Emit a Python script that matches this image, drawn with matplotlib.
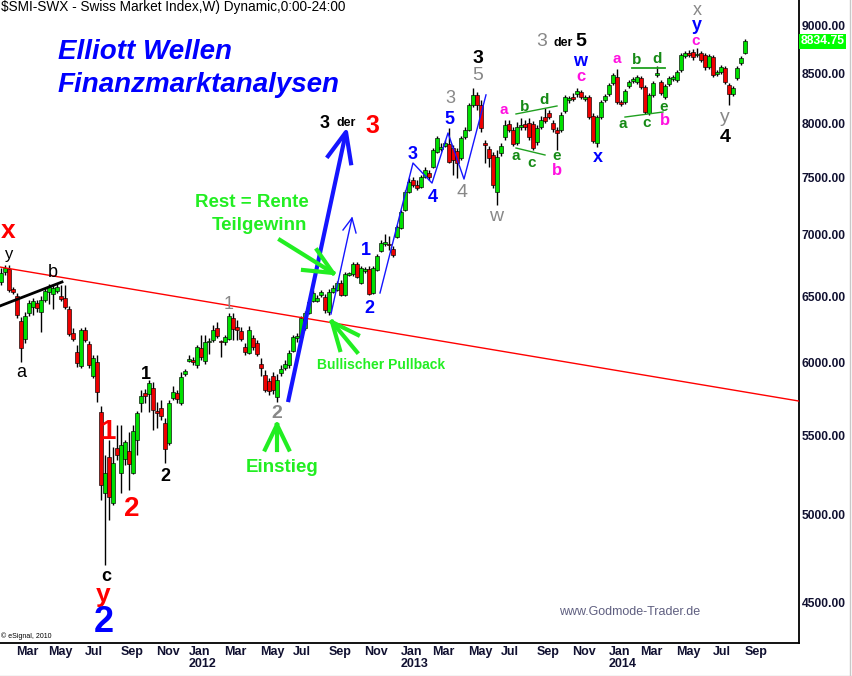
import numpy as np
import pandas as pd
import matplotlib
matplotlib.use("Agg")
import matplotlib.pyplot as plt
import matplotlib.transforms as mtransforms
from matplotlib.ticker import FixedLocator, NullLocator

plt.rcParams['font.family'] = ['Liberation Sans', 'DejaVu Sans']

# weekly bars of the SMI, first bar = week ending 11 Feb 2011
first_week = "2011-02-11"
opens = [
    6615, 6695, 6720, 6559, 6503, 6310, 6175, 6372, 6418, 6449,
    6380, 6472, 6535, 6520, 6543, 6503, 6488, 6402, 6220, 6079,
    5978, 6243, 6138, 5906, 6006, 5656, 5131, 5358, 5070, 5416,
    5255, 5345, 5397, 5255, 5468, 5717, 5787, 5780, 5822, 5663,
    5683, 5582, 5448, 5752, 5787, 5717, 5920, 6014, 6021, 5985,
    6109, 6014, 6153, 6168, 6258, 6160, 6153, 6175, 6333, 6265,
    6235, 6116, 6072, 6183, 6146, 5992, 5913, 5871, 5906, 5759,
    5927, 5963, 5985, 6087, 6183, 6190, 6258, 6372, 6464, 6464,
    6511, 6495, 6380, 6535, 6551, 6606, 6511, 6670, 6678, 6758,
    6606, 6702, 6718, 6527, 6710, 6865, 6924, 6924, 6882, 6982,
    7058, 7212, 7370, 7477, 7432, 7414, 7504, 7540, 7595, 7734,
    7762, 7790, 7809, 7771, 7743, 7678, 7875, 7941, 8184, 8284,
    8184, 7818, 7762, 7706, 7370, 7725, 7875, 7999, 7941, 7818,
    7970, 7999, 8008, 7999, 7828, 7970, 8066, 8106, 8008, 7941,
    7941, 8125, 8234, 8264, 8294, 8314, 8244, 8264, 8076, 7818,
    8066, 8234, 8294, 8405, 8466, 8214, 8214, 8375, 8425, 8415,
    8456, 8365, 8106, 8284, 8487, 8415, 8264, 8395, 8446, 8435,
    8537, 8681, 8713, 8723, 8692, 8713, 8692, 8568, 8671, 8497,
    8518, 8558, 8385, 8294, 8456, 8609, 8713]
highs = [
    6725, 6750, 6750, 6575, 6527, 6341, 6380, 6472, 6488, 6472,
    6503, 6567, 6598, 6590, 6598, 6590, 6590, 6426, 6258, 6131,
    6258, 6265, 6160, 6058, 6058, 5697, 5371, 5468, 5422, 5568,
    5568, 5468, 5521, 5568, 5663, 5808, 5815, 5878, 5864, 5724,
    5738, 5615, 5738, 5836, 5808, 5935, 5956, 6058, 6043, 6131,
    6205, 6205, 6183, 6280, 6303, 6168, 6205, 6372, 6372, 6318,
    6265, 6146, 6273, 6205, 6168, 6036, 5949, 5892, 5935, 5920,
    5985, 6021, 6094, 6205, 6220, 6348, 6388, 6472, 6551, 6511,
    6551, 6519, 6559, 6590, 6622, 6630, 6694, 6694, 6775, 6775,
    6742, 6734, 6742, 6742, 6840, 6957, 7007, 6990, 6907, 7083,
    7212, 7388, 7495, 7504, 7477, 7522, 7595, 7568, 7771, 7885,
    7818, 7847, 7960, 7799, 7771, 7885, 7970, 8204, 8355, 8314,
    8234, 7847, 7790, 7734, 7752, 7818, 8037, 8037, 7970, 8018,
    8057, 8037, 8057, 8028, 7989, 8076, 8155, 8135, 8037, 7970,
    8115, 8284, 8274, 8304, 8355, 8334, 8284, 8284, 8106, 8086,
    8234, 8294, 8405, 8508, 8547, 8234, 8344, 8435, 8466, 8487,
    8477, 8385, 8304, 8425, 8578, 8435, 8395, 8477, 8487, 8537,
    8713, 8733, 8744, 8754, 8765, 8733, 8713, 8702, 8692, 8537,
    8588, 8578, 8405, 8375, 8578, 8681, 8860]
lows = [
    6590, 6670, 6535, 6520, 6333, 6006, 6146, 6348, 6356, 6380,
    6228, 6457, 6441, 6402, 6527, 6464, 6402, 6198, 6160, 5970,
    5963, 6153, 5963, 5892, 5724, 5088, 4705, 4967, 5058, 5339,
    5131, 5307, 5149, 5249, 5371, 5656, 5717, 5656, 5535, 5548,
    5602, 5320, 5435, 5738, 5717, 5703, 5906, 6006, 5985, 5963,
    6021, 5992, 6065, 6153, 6183, 6043, 6131, 6168, 6168, 6168,
    6160, 6058, 6065, 6094, 6050, 5906, 5794, 5773, 5780, 5724,
    5906, 5949, 5963, 6079, 6153, 6183, 6243, 6364, 6457, 6457,
    6495, 6372, 6356, 6527, 6543, 6503, 6503, 6662, 6662, 6646,
    6598, 6686, 6511, 6519, 6702, 6857, 6907, 6873, 6816, 6974,
    7049, 7203, 7361, 7414, 7388, 7406, 7495, 7477, 7586, 7725,
    7743, 7780, 7632, 7522, 7495, 7659, 7856, 7931, 8164, 8135,
    7922, 7632, 7595, 7406, 7256, 7697, 7847, 7922, 7790, 7799,
    7941, 7941, 7847, 7752, 7799, 7951, 8008, 8047, 7922, 7752,
    7922, 8106, 8204, 8224, 8264, 8244, 8224, 8047, 7818, 7780,
    8047, 8214, 8274, 8385, 8194, 8174, 8194, 8355, 8405, 8395,
    8344, 8096, 8086, 8264, 8466, 8284, 8244, 8375, 8425, 8415,
    8518, 8661, 8671, 8640, 8671, 8619, 8537, 8547, 8466, 8477,
    8497, 8395, 8184, 8274, 8435, 8588, 8702]
closes = [
    6685, 6725, 6550, 6535, 6356, 6109, 6348, 6449, 6464, 6410,
    6472, 6543, 6575, 6567, 6575, 6480, 6418, 6213, 6175, 5999,
    6243, 6168, 5985, 6036, 5794, 5180, 5255, 5106, 5320, 5371,
    5435, 5455, 5313, 5528, 5649, 5766, 5766, 5857, 5670, 5649,
    5629, 5409, 5717, 5794, 5745, 5899, 5942, 6028, 6006, 6116,
    6043, 6153, 6160, 6243, 6198, 6153, 6190, 6348, 6250, 6243,
    6175, 6079, 6243, 6116, 6065, 5963, 5808, 5801, 5808, 5878,
    5956, 5992, 6072, 6190, 6198, 6333, 6372, 6457, 6527, 6488,
    6535, 6395, 6535, 6567, 6606, 6511, 6678, 6686, 6758, 6654,
    6726, 6718, 6519, 6726, 6824, 6932, 6940, 6915, 6832, 7066,
    7194, 7370, 7459, 7432, 7406, 7504, 7568, 7504, 7752, 7866,
    7780, 7818, 7641, 7659, 7632, 7866, 7941, 8184, 8284, 8184,
    7960, 7799, 7678, 7432, 7687, 7790, 7989, 7941, 7809, 7970,
    7989, 7970, 7875, 7771, 7960, 8037, 8028, 8066, 7951, 7913,
    8086, 8264, 8254, 8244, 8324, 8264, 8264, 8066, 7837, 8066,
    8214, 8274, 8385, 8487, 8214, 8194, 8324, 8415, 8446, 8466,
    8365, 8115, 8284, 8405, 8508, 8304, 8375, 8456, 8466, 8518,
    8692, 8713, 8692, 8671, 8702, 8640, 8568, 8681, 8487, 8518,
    8568, 8415, 8294, 8355, 8558, 8661, 8834.75]
last_price = 8834.75
price_ticks = [4500, 5000, 5500, 6000, 6500, 7000, 7500, 8000, 8500, 9000]
month_abbr = {1: "Jan", 3: "Mar", 5: "May", 7: "Jul", 9: "Sep", 11: "Nov"}

o = np.array(opens, float)
h = np.array(highs, float)
l = np.array(lows, float)
c = np.array(closes, float)
n = len(c)
x = np.arange(n)
dates = pd.date_range(first_week, periods=n, freq="7D")
week_start = dates - pd.Timedelta(days=4)  # Monday of each bar

fig = plt.figure(figsize=(8.52, 6.76), dpi=100)
ax = fig.add_axes([0, 33 / 676, 799 / 852, 643 / 676])
ax.set_yscale('log')
ax.set_xlim(-0.25, 199.5)
ax.set_ylim(4283.4, 9286)

# candles: black wick, coloured body with thin black outline
ax.vlines(x, l, h, color='black', lw=1, zorder=2)
bot = np.minimum(o, c)
top = np.maximum(np.maximum(o, c), bot * 1.0015)
cols = np.where(c >= o, '#00e000', '#ee0000')
ax.bar(x, top - bot, bottom=bot, width=0.82, color=cols, edgecolor='black',
       linewidth=0.45, zorder=3)

# axes styling
for s in ['left', 'top']:
    ax.spines[s].set_visible(False)
for s in ['right', 'bottom']:
    ax.spines[s].set_linewidth(1.3)
ax.yaxis.tick_right()
ax.yaxis.set_major_locator(FixedLocator(price_ticks))
ax.yaxis.set_minor_locator(NullLocator())
ax.set_yticklabels([f"{p:.2f}" for p in price_ticks], fontsize=8.7,
                   fontweight='bold', color='#101030')
ax.tick_params(axis='y', length=0, pad=2)

tick_pos, tick_lab = [], []
for i in range(1, n):
    m = week_start[i].month
    if m != week_start[i - 1].month and m in month_abbr:
        lab = month_abbr[m]
        if m == 1:
            lab += f"\n{week_start[i].year}"
        tick_pos.append(i - 0.1)
        tick_lab.append(lab)
ax.set_xticks(tick_pos)
ax.set_xticklabels(tick_lab, fontsize=9, fontweight='bold', color='#101030',
                   ha='left', linespacing=0.95)
ax.xaxis.set_minor_locator(NullLocator())
ax.tick_params(axis='x', length=0, pad=2.5)

# last price tag
trans = mtransforms.blended_transform_factory(ax.transAxes, ax.transData)
ax.text(1.002, last_price, f"{last_price:.2f}", transform=trans, fontsize=8.7,
        fontweight='bold', color='white', va='center', ha='left',
        bbox=dict(boxstyle='square,pad=0.12', fc='#00ff00', ec='none'),
        clip_on=False)

# trend lines
ax.plot([-0.25, 199.5], [6734, 5731], color='red', lw=1, zorder=4)
ax.plot([-0.25, 15.25], [6426, 6614], color='black', lw=2, zorder=4)

# thick blue arrow
ax.plot([71.75, 86.25], [5724, 7922], color='#1515ff', lw=3, zorder=5,
        solid_capstyle='butt')
ax.plot([81.75, 86.25, 87.5], [7695, 7922, 7630], color='#1515ff', lw=3,
        zorder=5)
# thin blue arrow
ax.plot([82.5, 87.75], [6364, 7143], color='#1515ff', lw=1, zorder=5)
ax.plot([85.5, 87.75, 88.75], [7041, 7143, 7016], color='#1515ff', lw=1,
        zorder=5)
# blue wave path
ax.plot([94.75, 103.0, 107.75, 111.75, 115.75, 121.25],
        [6527, 7632, 7450, 7913, 7486, 8284], color='#1515ff', lw=1, zorder=5)

# green triangles
tg = '#20a020'
ax.plot([128.75, 139.0], [8096, 8174], color=tg, lw=1, zorder=5)
ax.plot([128.75, 136.0], [7771, 7706], color=tg, lw=1, zorder=5)
ax.plot([157.75, 166.0], [8558, 8558], color=tg, lw=1.3, zorder=5)
ax.plot([156.0, 165.5], [8066, 8115], color=tg, lw=1, zorder=5)

# lime arrows
lime = '#22ee22'
for ex, ey in [(66.0, 5406), (69.0, 5406), (72.0, 5406)]:
    ax.plot([69.0, ex], [5570, ey], color=lime, lw=3, zorder=6)
for ex, ey in [(84.75, 6094), (89.0, 6079), (89.25, 6205)]:
    ax.plot([82.75, ex], [6303, ey], color=lime, lw=3, zorder=6)
for ex, ey in [(69.75, 6957), (75.5, 6710), (79.0, 6873)]:
    ax.plot([83.0, ex], [6686, ey], color=lime, lw=3, zorder=6)


def lab(i, p, s, color, size, weight='bold', **kw):
    ax.text(i, p, s, color=color, fontsize=size, fontweight=weight,
            ha=kw.pop('ha', 'center'), va='center', zorder=7, **kw)


mag = '#ff10e0'
dg = '#158a15'
gray = '#888888'
blue = '#0000ff'

lab(1.8, 7030, "x", 'red', 19)
lab(2.0, 6840, "y", 'black', 12, 'normal')
lab(13.0, 6686, "b", 'black', 13, 'normal')
lab(5.0, 5928, "a", 'black', 13, 'normal')
lab(57.0, 6441, "1", gray, 13, 'normal')
lab(36.25, 5920, "1", 'black', 13)
lab(26.75, 5522, "1", 'red', 20)
lab(32.75, 5030, "2", 'red', 20)
lab(41.0, 5236, "2", 'black', 13)
lab(26.25, 4642, "c", 'black', 13)
lab(25.5, 4538, "y", 'red', 19)
lab(25.75, 4389, "2", blue, 26)
lab(70.25, 5293, "Einstieg", lime, 13.5)
lab(69.0, 5643, "2", gray, 14)
lab(79.0, 5985, "Bullischer Pullback", lime, 10, ha='left')
lab(62.75, 7282, "Rest = Rente", lime, 13.5)
lab(64.5, 7075, "Teilgewinn", lime, 13.5)
lab(81.0, 8000, "3", 'black', 13)
lab(86.25, 8008, "der", 'black', 9)
lab(92.75, 7980, "3", 'red', 18)
lab(91.25, 6873, "1", blue, 13)
lab(92.0, 6410, "2", blue, 13)
lab(103.0, 7715, "3", blue, 13)
lab(108.0, 7326, "4", blue, 13)
lab(112.0, 8040, "5", blue, 13)
lab(112.25, 8250, "3", gray, 13, 'normal')
lab(115.25, 7370, "4", gray, 14, 'normal')
lab(119.25, 8480, "5", gray, 14, 'normal')
lab(119.25, 8654, "3", 'black', 14)
lab(123.75, 7152, "w", gray, 14, 'normal')
lab(125.75, 8135, "a", mag, 11)
lab(131.0, 8164, "b", dg, 11)
lab(135.75, 8234, "d", dg, 11)
lab(128.75, 7697, "a", dg, 11)
lab(132.75, 7632, "c", dg, 11)
lab(139.0, 7697, "e", dg, 11)
lab(139.0, 7568, "b", mag, 12)
lab(135.25, 8829, "3", gray, 14, 'normal')
lab(140.5, 8818, "der", 'black', 9)
lab(145.0, 8829, "5", 'black', 14)
lab(144.75, 8620, "w", blue, 13)
lab(145.0, 8466, "c", mag, 12)
lab(149.25, 7687, "x", blue, 13)
lab(154.0, 8650, "a", mag, 11)
lab(159.0, 8640, "b", dg, 11)
lab(164.0, 8650, "d", dg, 11)
lab(155.5, 8000, "a", dg, 11)
lab(161.5, 8008, "c", dg, 11)
lab(165.75, 8164, "e", dg, 11)
lab(166.0, 8028, "b", mag, 12)
lab(174.0, 9170, "x", gray, 13, 'normal')
lab(174.0, 9000, "y", blue, 13)
lab(173.75, 8839, "c", mag, 11)
lab(181.0, 8066, "y", gray, 14, 'normal')
lab(181.0, 7866, "4", 'black', 14)

# titles and credits
fig.text(1 / 852, 1 - 7 / 676, "$SMI-SWX - Swiss Market Index,W) Dynamic,0:00-24:00",
         fontsize=9.8, color='black', va='center', ha='left')
fig.text(58 / 852, 1 - 52 / 676, "Elliott Wellen", fontsize=20, color='#0000ff',
         fontweight='bold', fontstyle='italic', va='center', ha='left')
fig.text(58 / 852, 1 - 85 / 676, "Finanzmarktanalysen", fontsize=20,
         color='#0000ff', fontweight='bold', fontstyle='italic', va='center',
         ha='left')
fig.text(630 / 852, 1 - 612 / 676, "www.Godmode-Trader.de", fontsize=9,
         color='#5f5f80', va='center', ha='center')
fig.text(1 / 852, 1 - 636 / 676, "\u00a9 eSignal, 2010", fontsize=5,
         color='black', va='center', ha='left')

# outer gray frame lines
fig.add_artist(plt.Line2D([849.5 / 852, 849.5 / 852], [0, 1], color='#c8c8c8', lw=1))
fig.add_artist(plt.Line2D([0, 1], [0.5 / 676, 0.5 / 676], color='#c8c8c8', lw=1))

fig.savefig("out.png", dpi=100)
